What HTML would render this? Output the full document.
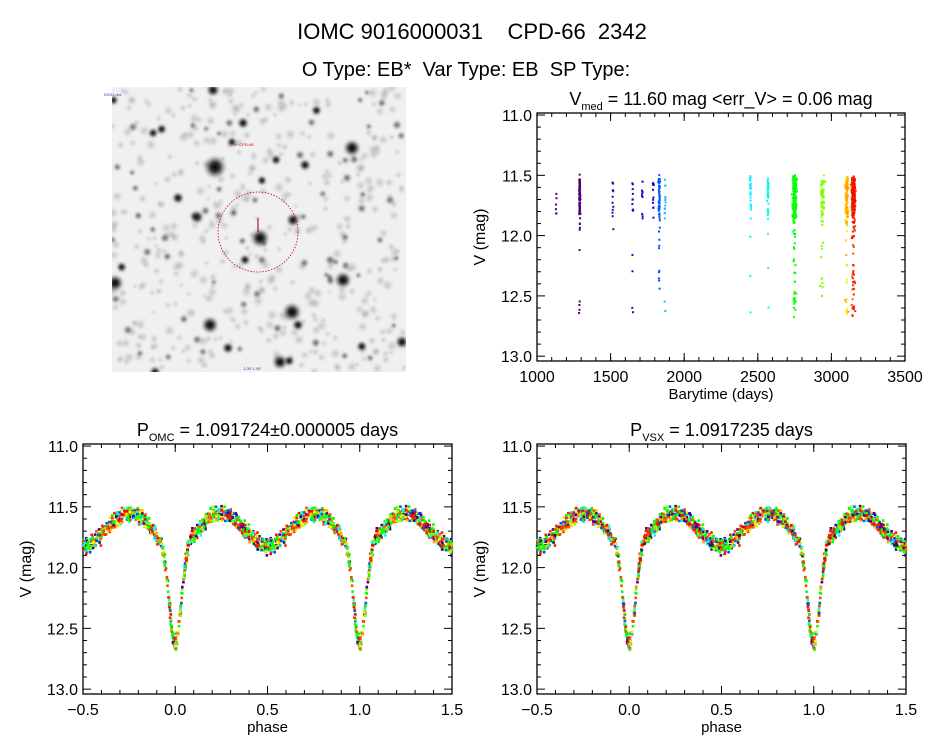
<!DOCTYPE html>
<html><head><meta charset="utf-8">
<style>
body{margin:0;background:#fff;width:944px;height:747px;overflow:hidden;font-family:"Liberation Sans",sans-serif;}
svg text{font-family:"Liberation Sans",sans-serif;}
</style></head><body>
<svg id="s" width="944" height="747" xmlns="http://www.w3.org/2000/svg">
<defs>
<radialGradient id="st"><stop offset="0" stop-color="#000" stop-opacity="1"/><stop offset="0.4" stop-color="#111" stop-opacity="0.85"/><stop offset="1" stop-color="#888" stop-opacity="0"/></radialGradient>
<radialGradient id="fs"><stop offset="0" stop-color="#999" stop-opacity="0.6"/><stop offset="1" stop-color="#bbb" stop-opacity="0"/></radialGradient>
<clipPath id="ic"><rect x="112" y="87" width="294" height="285"/></clipPath>
<filter id="bl"><feGaussianBlur stdDeviation="1"/></filter>
</defs>
<text x="472" y="39" font-size="22" text-anchor="middle" xml:space="preserve">IOMC 9016000031    CPD-66  2342</text>
<text x="466" y="76" font-size="20" text-anchor="middle" xml:space="preserve">O Type: EB*  Var Type: EB  SP Type:</text>
<rect x="112" y="87" width="294" height="285" fill="#f0f0f0"/>
<g id="img" clip-path="url(#ic)" filter="url(#bl)"></g>
<circle cx="258" cy="232" r="40" fill="none" stroke="#c00" stroke-width="0.8" stroke-dasharray="1.5,1.5"/>
<line x1="258" y1="218" x2="258" y2="232" stroke="#800" stroke-width="1"/>
<text x="234" y="146" font-size="4" fill="#c00">V* CPD-66</text>
<text x="104" y="96" font-size="4" fill="#33a">DSS1 red</text>
<text x="243" y="370" font-size="4" fill="#33a">1.05' 1.05'</text>
<g id="plots"></g>
</svg>
<script>
var seed=12345;function R(){seed=(seed*16807)%2147483647;return (seed-1)/2147483646;}
function G(){return (R()+R()+R()+R()-2)*0.87;}
var NS="http://www.w3.org/2000/svg";
function el(p,t,a,txt){var e=document.createElementNS(NS,t);for(var k in a)e.setAttribute(k,a[k]);if(txt!==undefined)e.textContent=txt;p.appendChild(e);return e;}
var img=document.getElementById('img');
for(var i=0;i<420;i++){el(img,'circle',{cx:112+R()*294,cy:87+R()*285,r:2.5+R()*3.5,fill:'url(#fs)'});}
var stars=[[215,167,12],[292,312,10],[210,325,9],[260,238,10],[343,280,9],[352,148,9],[115,283,9],[280,362,8],[197,217,7],[178,198,6],[305,165,6],[300,155,5],[293,220,7],[298,325,6],[228,348,6],[243,123,6],[402,342,7],[165,238,5],[347,178,5],[133,127,5],[397,125,5],[213,90,7],[155,372,6],[390,200,5],[262,260,5],[380,240,4],[128,330,5],[330,260,5],[255,200,4]];
for(var i=0;i<70;i++)stars.push([112+R()*294,87+R()*285,3+R()*2.5]);
stars.forEach(function(s){el(img,'circle',{cx:s[0],cy:s[1],r:s[2],fill:'url(#st)',opacity:s[2]>5?1:0.55});});

var P=document.getElementById('plots');
function model(ph){ph=((ph%1)+1)%1;var b=11.55+0.27*Math.pow(Math.cos(2*Math.PI*ph),2);var d=Math.min(ph,1-ph);b+=0.8*Math.exp(-Math.pow(d/0.045,2));return b;}
function frame(x0,y0,x1,y1,xmin,xmax,xt,xminor,xlab,title,sub,titleRest){
 var g=el(P,'g',{});
 el(g,'rect',{x:x0,y:y0,width:x1-x0,height:y1-y0,fill:'none',stroke:'#000','stroke-width':1.3});
 var ymin=10.983,ymax=13.04;
 function Y(v){return y0+(v-ymin)/(ymax-ymin)*(y1-y0);}
 function X(v){return x0+(v-xmin)/(xmax-xmin)*(x1-x0);}
 for(var v=11;v<=13.001;v+=0.1){var yy=Y(v);var maj=Math.abs(v*2-Math.round(v*2))<0.01;var L=maj?8:4;
  el(g,'line',{x1:x0,y1:yy,x2:x0+L,y2:yy,stroke:'#000'});el(g,'line',{x1:x1,y1:yy,x2:x1-L,y2:yy,stroke:'#000'});
  if(maj)el(g,'text',{x:x0-5,y:yy+6,'font-size':16,'text-anchor':'end'},v.toFixed(1));}
 xt.forEach(function(v){var xx=X(v);el(g,'line',{x1:xx,y1:y1,x2:xx,y2:y1-8,stroke:'#000'});el(g,'line',{x1:xx,y1:y0,x2:xx,y2:y0+8,stroke:'#000'});
  el(g,'text',{x:xx,y:y1+21,'font-size':16,'text-anchor':'middle'},(v<0?'\u2212':'')+Math.abs(v).toFixed(xmax>100?0:1));});
 for(var v=xmin;v<=xmax+1e-9;v+=xminor){var xx=X(v);el(g,'line',{x1:xx,y1:y1,x2:xx,y2:y1-4,stroke:'#000'});el(g,'line',{x1:xx,y1:y0,x2:xx,y2:y0+4,stroke:'#000'});}
 var lx=x0-52,ty=(y0+y1)/2;el(g,'text',{x:lx,y:ty,'font-size':16,'text-anchor':'middle',transform:'rotate(-90 '+lx+' '+ty+')'},'V (mag)');
 el(g,'text',{x:(x0+x1)/2,y:y1+38,'font-size':15,'text-anchor':'middle'},xlab);
 var tt=el(g,'text',{x:(x0+x1)/2,y:y0-8,'font-size':18,'text-anchor':'middle'});
 el(tt,'tspan',{},title);el(tt,'tspan',{'font-size':11,dy:5},sub);el(tt,'tspan',{dy:-5},titleRest);
 return {X:X,Y:Y,g:g};
}
// [time, n, spread, hue0, hue1, lightness]
var groups=[[1130,6,3,280,280,22],[1290,90,4,285,282,22],[1515,12,4,270,268,30],[1650,14,4,262,258,35],[1715,10,4,258,255,38],[1790,12,4,250,245,40],[1830,60,5,222,215,48],[1870,15,5,198,195,55],[2450,30,5,185,185,55],[2570,40,6,175,172,52],[2750,220,12,130,115,50],[2940,70,12,95,85,50],[3105,130,10,60,35,50],[3150,260,12,25,0,48]];
var pts=[];
groups.forEach(function(gr){for(var i=0;i<gr[1];i++){var f=i/gr[1];var t=gr[0]+G()*gr[2];var ph=R();var m=model(ph)+G()*0.06;pts.push([t,ph,m,'hsl('+(gr[3]+(gr[4]-gr[3])*f)+',100%,'+gr[5]+'%)']);}});
var A=frame(537,113,905,361,1000,3500,[1000,1500,2000,2500,3000,3500],100,'Barytime (days)','V','med',' = 11.60 mag <err_V> = 0.06 mag');
pts.forEach(function(p){el(A.g,'rect',{x:A.X(p[0])-1,y:A.Y(p[2])-1,width:2,height:2,fill:p[3]});});
function phasePlot(x0,title,sub,rest){
 var B=frame(x0,444,x0+369,694,-0.5,1.5,[-0.5,0,0.5,1,1.5],0.1,'phase',title,sub,rest);
 var sorted=pts.slice().sort(function(){return R()-0.5;});
 sorted.forEach(function(p){[p[1]-1,p[1],p[1]+1].forEach(function(q){if(q>=-0.5&&q<=1.5)el(B.g,'rect',{x:B.X(q)-1.3,y:B.Y(p[2])-1.3,width:2.6,height:2.6,fill:p[3]});});});
}
phasePlot(83,'P','OMC',' = 1.091724\u00b10.000005 days');
phasePlot(537,'P','VSX',' = 1.0917235 days');
</script>
</body></html>
